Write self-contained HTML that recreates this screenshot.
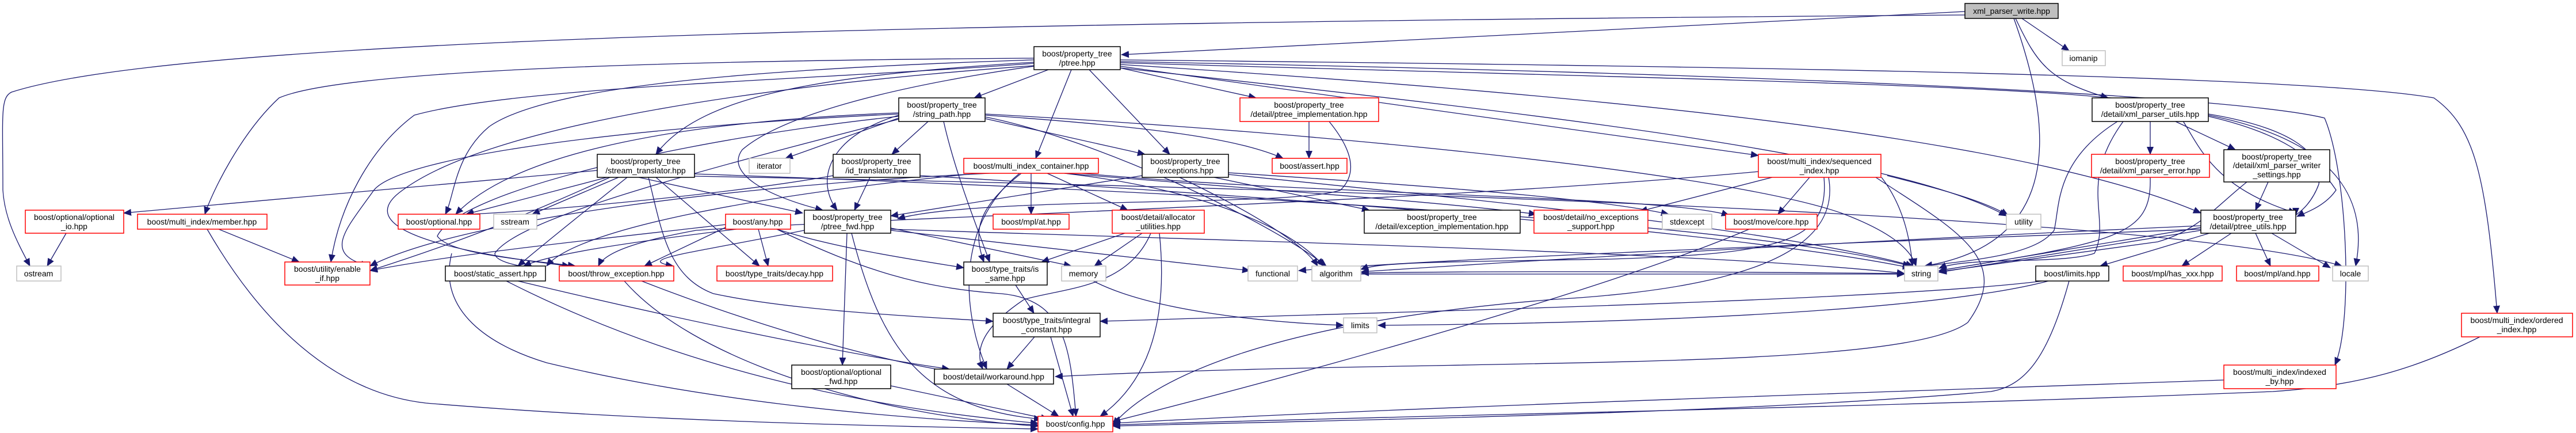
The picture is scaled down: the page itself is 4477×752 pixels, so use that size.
<!DOCTYPE html>
<html><head><meta charset="utf-8"><style>
html,body{margin:0;padding:0;background:#fff;}
svg{display:block;}
text{font-family:"Liberation Sans",sans-serif;font-size:14px;fill:#000;text-anchor:middle;}
.e{fill:none;stroke:#191970;stroke-width:1.3;marker-end:url(#a);}
.b{fill:#fff;stroke:#000;stroke-width:1.5;}
.r{fill:#fff;stroke:#ff0000;stroke-width:1.5;}
.g{fill:#fff;stroke:#bfbfbf;stroke-width:1.5;}
</style></head><body>
<svg width="4477" height="752" viewBox="0 0 4477 752" xmlns="http://www.w3.org/2000/svg">
<defs><marker id="a" markerUnits="userSpaceOnUse" markerWidth="14" markerHeight="12" refX="13" refY="6" orient="auto"><path d="M0,0 L14,6 L0,12 z" fill="#191970"/></marker></defs>
<g>
<!-- xml_parser_write edges -->
<path class="e" d="M3415,20 L1949,95"/>
<path class="e" d="M3514,32 L3596,88"/>
<path class="e" d="M3503,32 C3540,110 3560,140 3664,170"/>
<path class="e" d="M3500,32 C3560,200 3600,420 3345,462"/>
<path class="e" d="M3415,26 C1500,40 300,70 20,160 C0,170 5,200 5,330 C8,380 30,420 52,462"/>
<!-- ptree edges -->
<path class="e" d="M1822,121 L1693,170"/>
<path class="e" d="M1862,121 L1800,275"/>
<path class="e" d="M1893,121 L2033,268"/>
<path class="e" d="M1947,118 L2183,170"/>
<path class="e" d="M1797,108 C1450,130 1220,160 1140,268"/>
<path class="e" d="M1797,104 C1300,120 950,150 850,220 C790,270 790,340 774,372"/>
<path class="e" d="M1797,101 C1200,105 600,120 485,170 C420,230 370,330 356,372"/>
<path class="e" d="M1797,110 C1400,140 900,150 720,200 C640,260 590,360 575,455"/>
<path class="e" d="M1797,114 C1300,150 850,220 700,330 C600,400 800,440 990,462"/>
<path class="e" d="M1797,115 C1550,150 1360,200 1290,260 C1260,300 1330,340 1430,365"/>
<path class="e" d="M1947,115 L3056,270"/>
<path class="e" d="M1947,112 C2700,160 3500,230 3825,370"/>
<path class="e" d="M1947,104 C3000,115 4000,130 4230,170 C4300,220 4320,300 4340,544"/>
<path class="e" d="M1947,107 C3200,130 3900,170 4040,205 C4080,300 4090,560 4058,634"/>
<path class="e" d="M1947,118 C2700,200 3300,270 3487,375"/>
<path class="e" d="M1947,109 C3000,140 3700,150 3780,190 C3820,240 3830,320 3990,370"/>
<!-- string_path -->
<path class="e" d="M1562,205 L1365,275"/>
<path class="e" d="M1613,211 L1550,268"/>
<path class="e" d="M1640,211 C1660,300 1700,400 1720,455"/>
<path class="e" d="M1562,200 C1430,240 1420,320 1455,365"/>
<path class="e" d="M1562,196 C1200,210 900,260 792,372"/>
<path class="e" d="M1562,198 C1100,220 700,270 650,330 C600,400 560,440 640,462"/>
<path class="e" d="M1562,202 C1200,240 800,330 760,410 C780,440 900,450 1000,462"/>
<path class="e" d="M1712,206 L1990,268"/>
<path class="e" d="M1712,200 C2000,220 2150,240 2230,275"/>
<path class="e" d="M1712,198 C2300,230 3000,300 3200,370 C3280,400 3320,430 3330,462"/>
<path class="e" d="M1712,203 C1900,240 2200,380 2305,462"/>
<path class="e" d="M1562,207 C1200,300 900,380 860,440 C860,455 900,462 948,470"/>
<!-- stream_translator -->
<path class="e" d="M1038,296 L215,370"/>
<path class="e" d="M1055,308 L810,372"/>
<path class="e" d="M1075,308 L925,372"/>
<path class="e" d="M1090,308 C1000,380 950,420 900,462"/>
<path class="e" d="M1110,308 L1395,370"/>
<path class="e" d="M1140,308 L1320,462"/>
<path class="e" d="M1127,308 C1150,400 1160,480 1240,510 C1380,540 1600,550 1726,558"/>
<path class="e" d="M1060,308 C900,380 800,420 643,470"/>
<path class="e" d="M1207,302 C2000,330 3000,380 3320,462"/>
<path class="e" d="M1207,306 C2500,330 3800,380 4070,462"/>
<!-- id_translator -->
<path class="e" d="M1512,308 L1485,365"/>
<path class="e" d="M1599,305 C2200,340 3000,400 3320,465"/>
<path class="e" d="M1448,305 C1250,340 900,370 810,372"/>
<!-- multi_index_container -->
<path class="e" d="M1792,301 L1792,372"/>
<path class="e" d="M1820,301 L1960,365"/>
<path class="e" d="M1775,301 C1700,360 1690,400 1710,455"/>
<path class="e" d="M1772,301 C1650,400 1680,560 1715,641"/>
<path class="e" d="M1720,301 C1300,320 800,380 643,462"/>
<path class="e" d="M1850,301 C2100,330 2250,400 2300,462"/>
<path class="e" d="M1850,301 C2200,330 2500,350 2670,372"/>
<path class="e" d="M1880,301 C2300,340 2900,340 3005,374"/>
<path class="e" d="M1700,301 C1300,340 1000,400 950,462"/>
<!-- exceptions -->
<path class="e" d="M1985,305 L1548,375"/>
<path class="e" d="M2110,308 L2380,365"/>
<path class="e" d="M2135,300 C2600,330 2800,350 2900,372"/>
<path class="e" d="M2135,303 C2600,350 3100,400 3325,462"/>
<path class="e" d="M2050,308 C2200,380 2270,430 2290,462"/>
<!-- any -->
<path class="e" d="M1261,395 L1120,462"/>
<path class="e" d="M1318,398 L1335,462"/>
<path class="e" d="M1280,398 C1100,420 960,440 910,462"/>
<path class="e" d="M1261,390 C1000,420 800,440 643,470"/>
<path class="e" d="M1350,398 C1450,430 1580,450 1675,465"/>
<path class="e" d="M1350,398 C1500,470 1600,500 1740,510 C1850,520 1860,600 1870,723"/>
<!-- ptree_fwd -->
<path class="e" d="M1472,405 L1464,634"/>
<path class="e" d="M1480,405 C1530,600 1600,710 1810,728"/>
<path class="e" d="M1548,396 L1862,462"/>
<path class="e" d="M1548,400 C1800,430 2000,450 2172,470"/>
<path class="e" d="M1548,398 C2200,420 3000,440 3310,475"/>
<path class="e" d="M1398,400 C1200,440 1100,450 1170,462"/>
<!-- allocator_utilities -->
<path class="e" d="M1955,405 L1810,455"/>
<path class="e" d="M1985,405 L1902,462"/>
<path class="e" d="M2000,405 C1960,500 1850,500 1780,520 C1720,560 1690,600 1708,641"/>
<path class="e" d="M2015,405 C2030,550 2000,660 1912,723"/>
<!-- lower chain -->
<path class="e" d="M1765,495 L1797,544"/>
<path class="e" d="M1798,585 L1750,641"/>
<path class="e" d="M1826,585 L1865,723"/>
<path class="e" d="M1750,667 L1840,723"/>
<path class="e" d="M1548,670 L1822,728"/>
<path class="e" d="M900,488 C1200,560 1500,620 1650,641"/>
<path class="e" d="M880,488 C1100,600 1400,700 1804,735"/>
<path class="e" d="M1115,488 C1300,560 1500,620 1650,645"/>
<path class="e" d="M1085,488 C1200,620 1500,720 1804,740"/>
<path class="e" d="M380,398 L520,455"/>
<path class="e" d="M360,398 C500,640 650,690 740,700 C1100,730 1500,740 1804,745"/>
<path class="e" d="M115,405 L82,462"/>
<path class="e" d="M785,440 C760,540 850,600 950,630 C1200,690 1500,725 1804,738"/>
<!-- sequenced_index -->
<path class="e" d="M3145,308 L3090,372"/>
<path class="e" d="M3080,308 L2850,367"/>
<path class="e" d="M3170,308 C3180,420 3100,440 2800,450 C2500,455 2400,455 2365,468"/>
<path class="e" d="M3270,308 C3310,360 3320,420 3324,462"/>
<path class="e" d="M3280,305 C3380,330 3450,350 3490,374"/>
<path class="e" d="M3056,298 C2500,350 1500,380 1210,400 C1100,420 1050,440 1040,462"/>
<path class="e" d="M3178,308 C3200,430 3050,500 2700,520 C2200,560 2000,660 1934,738"/>
<path class="e" d="M3260,308 C3400,400 3500,450 3420,560 C3300,650 2500,620 1834,654"/>
<path class="e" d="M3040,398 C2800,500 2300,640 1934,732"/>
<!-- ptree_implementation -->
<path class="e" d="M2275,211 L2275,275"/>
<path class="e" d="M2310,211 C2350,260 2360,300 2330,330 C2250,360 1700,340 1560,380"/>
<!-- xml_parser_utils -->
<path class="e" d="M3737,211 L3737,268"/>
<path class="e" d="M3781,211 L3885,260"/>
<path class="e" d="M3838,198 C3970,220 4040,260 4030,320 C4015,360 3990,372 3990,374"/>
<path class="e" d="M3838,202 C3960,230 4020,270 4060,330 C4040,360 4000,372 3992,376"/>
<path class="e" d="M3680,211 C3570,280 3580,360 3570,400 C3540,440 3450,450 3345,462"/>
<path class="e" d="M3690,211 C3610,320 3670,380 3640,440 C3580,460 3420,445 3370,466"/>
<path class="e" d="M3838,200 C4040,240 4120,330 4094,462"/>
<!-- xml_parser_error / writer settings -->
<path class="e" d="M3737,308 C3740,410 3680,420 3370,470"/>
<path class="e" d="M3942,316 L3920,365"/>
<path class="e" d="M3905,316 C3850,360 3820,400 3750,420 C3600,440 3450,460 3370,472"/>
<!-- ptree_utils -->
<path class="e" d="M3825,395 L3370,470"/>
<path class="e" d="M3825,400 L3370,473"/>
<path class="e" d="M3840,405 L3650,462"/>
<path class="e" d="M3878,405 L3792,462"/>
<path class="e" d="M3920,405 L3946,462"/>
<path class="e" d="M3948,405 L4050,465"/>
<path class="e" d="M3825,392 C3200,420 2700,450 2366,472"/>
<path class="e" d="M3825,398 C3000,430 2500,450 2257,470"/>
<!-- limits etc -->
<path class="e" d="M3596,488 C3560,620 3520,670 3460,680 C3000,720 2300,730 1934,740"/>
<path class="e" d="M3560,488 C3400,530 3000,560 2395,565"/>
<path class="e" d="M3550,488 C3300,520 2500,540 1912,558"/>
<path class="e" d="M3300,475 C2800,470 2500,472 2366,474"/>
<path class="e" d="M2365,476 C2800,474 3100,474 3310,476"/>
<path class="e" d="M1900,488 C2000,540 2200,560 2335,565"/>
<!-- indexed_by / ordered -->
<path class="e" d="M3865,660 C3000,690 2400,710 1934,735"/>
<path class="e" d="M4310,585 C4200,640 4100,670 3950,680 C3200,710 2500,720 1934,738"/>
</g>
<g>
<rect class="b" x="3415" y="6" width="162" height="26" style="fill:#bfbfbf"/><text x="3496" y="24">xml_parser_write.hpp</text>
<rect class="g" x="3584" y="88" width="75" height="26"/><text x="3621" y="106">iomanip</text>
<rect class="b" x="1797" y="81" width="150" height="40"/><text x="1872" y="98">boost/property_tree</text><text x="1872" y="114">/ptree.hpp</text>
<rect class="b" x="1562" y="170" width="150" height="41"/><text x="1637" y="187">boost/property_tree</text><text x="1637" y="203">/string_path.hpp</text>
<rect class="r" x="2155" y="170" width="241" height="41"/><text x="2275" y="187">boost/property_tree</text><text x="2275" y="203">/detail/ptree_implementation.hpp</text>
<rect class="b" x="3636" y="170" width="202" height="41"/><text x="3737" y="187">boost/property_tree</text><text x="3737" y="203">/detail/xml_parser_utils.hpp</text>
<rect class="b" x="1038" y="268" width="169" height="40"/><text x="1122" y="285">boost/property_tree</text><text x="1122" y="301">/stream_translator.hpp</text>
<rect class="g" x="1302" y="275" width="71" height="26"/><text x="1337" y="293">iterator</text>
<rect class="b" x="1448" y="268" width="151" height="40"/><text x="1523" y="285">boost/property_tree</text><text x="1523" y="301">/id_translator.hpp</text>
<rect class="r" x="1675" y="275" width="234" height="26"/><text x="1792" y="293">boost/multi_index_container.hpp</text>
<rect class="b" x="1985" y="268" width="150" height="40"/><text x="2060" y="285">boost/property_tree</text><text x="2060" y="301">/exceptions.hpp</text>
<rect class="r" x="2211" y="275" width="130" height="26"/><text x="2276" y="293">boost/assert.hpp</text>
<rect class="r" x="3056" y="268" width="213" height="40"/><text x="3162" y="285">boost/multi_index/sequenced</text><text x="3162" y="301">_index.hpp</text>
<rect class="r" x="3635" y="268" width="205" height="40"/><text x="3737" y="285">boost/property_tree</text><text x="3737" y="301">/detail/xml_parser_error.hpp</text>
<rect class="b" x="3865" y="260" width="184" height="56"/><text x="3957" y="277">boost/property_tree</text><text x="3957" y="292">/detail/xml_parser_writer</text><text x="3957" y="308">_settings.hpp</text>
<rect class="r" x="44" y="365" width="171" height="40"/><text x="129" y="382">boost/optional/optional</text><text x="129" y="398">_io.hpp</text>
<rect class="r" x="239" y="372" width="225" height="26"/><text x="351" y="390">boost/multi_index/member.hpp</text>
<rect class="r" x="692" y="372" width="142" height="26"/><text x="763" y="390">boost/optional.hpp</text>
<rect class="g" x="858" y="372" width="75" height="26"/><text x="895" y="390">sstream</text>
<rect class="r" x="1261" y="372" width="113" height="26"/><text x="1317" y="390">boost/any.hpp</text>
<rect class="b" x="1398" y="365" width="150" height="40"/><text x="1473" y="382">boost/property_tree</text><text x="1473" y="398">/ptree_fwd.hpp</text>
<rect class="r" x="1726" y="372" width="132" height="26"/><text x="1792" y="390">boost/mpl/at.hpp</text>
<rect class="r" x="1933" y="365" width="160" height="40"/><text x="2013" y="382">boost/detail/allocator</text><text x="2013" y="398">_utilities.hpp</text>
<rect class="b" x="2371" y="365" width="271" height="40"/><text x="2506" y="382">boost/property_tree</text><text x="2506" y="398">/detail/exception_implementation.hpp</text>
<rect class="r" x="2666" y="365" width="198" height="40"/><text x="2765" y="382">boost/detail/no_exceptions</text><text x="2765" y="398">_support.hpp</text>
<rect class="g" x="2889" y="372" width="86" height="26"/><text x="2932" y="390">stdexcept</text>
<rect class="r" x="2999" y="372" width="159" height="26"/><text x="3078" y="390">boost/move/core.hpp</text>
<rect class="g" x="3487" y="372" width="60" height="26"/><text x="3517" y="390">utility</text>
<rect class="b" x="3825" y="365" width="165" height="40"/><text x="3907" y="382">boost/property_tree</text><text x="3907" y="398">/detail/ptree_utils.hpp</text>
<rect class="g" x="29" y="462" width="77" height="26"/><text x="67" y="480">ostream</text>
<rect class="r" x="495" y="455" width="148" height="40"/><text x="569" y="472">boost/utility/enable</text><text x="569" y="488">_if.hpp</text>
<rect class="b" x="774" y="462" width="174" height="26"/><text x="861" y="480">boost/static_assert.hpp</text>
<rect class="r" x="972" y="462" width="199" height="26"/><text x="1071" y="480">boost/throw_exception.hpp</text>
<rect class="r" x="1246" y="462" width="201" height="26"/><text x="1346" y="480">boost/type_traits/decay.hpp</text>
<rect class="b" x="1675" y="455" width="145" height="40"/><text x="1747" y="472">boost/type_traits/is</text><text x="1747" y="488">_same.hpp</text>
<rect class="g" x="1845" y="462" width="77" height="26"/><text x="1883" y="480">memory</text>
<rect class="g" x="2169" y="462" width="86" height="26"/><text x="2212" y="480">functional</text>
<rect class="g" x="2280" y="462" width="85" height="26"/><text x="2322" y="480">algorithm</text>
<rect class="g" x="3310" y="462" width="58" height="26"/><text x="3339" y="480">string</text>
<rect class="b" x="3538" y="462" width="127" height="26"/><text x="3601" y="480">boost/limits.hpp</text>
<rect class="r" x="3690" y="462" width="172" height="26"/><text x="3776" y="480">boost/mpl/has_xxx.hpp</text>
<rect class="r" x="3887" y="462" width="143" height="26"/><text x="3958" y="480">boost/mpl/and.hpp</text>
<rect class="g" x="4054" y="462" width="62" height="26"/><text x="4085" y="480">locale</text>
<rect class="g" x="2335" y="552" width="58" height="26"/><text x="2364" y="570">limits</text>
<rect class="b" x="1726" y="544" width="186" height="41"/><text x="1819" y="561">boost/type_traits/integral</text><text x="1819" y="577">_constant.hpp</text>
<rect class="r" x="4278" y="544" width="193" height="41"/><text x="4374" y="561">boost/multi_index/ordered</text><text x="4374" y="577">_index.hpp</text>
<rect class="b" x="1376" y="634" width="172" height="41"/><text x="1462" y="651">boost/optional/optional</text><text x="1462" y="667">_fwd.hpp</text>
<rect class="r" x="3865" y="634" width="195" height="41"/><text x="3962" y="651">boost/multi_index/indexed</text><text x="3962" y="667">_by.hpp</text>
<rect class="b" x="1624" y="641" width="207" height="26"/><text x="1727" y="659">boost/detail/workaround.hpp</text>
<rect class="r" x="1804" y="723" width="130" height="27"/><text x="1869" y="741">boost/config.hpp</text>
</g>
</svg>
</body></html>
